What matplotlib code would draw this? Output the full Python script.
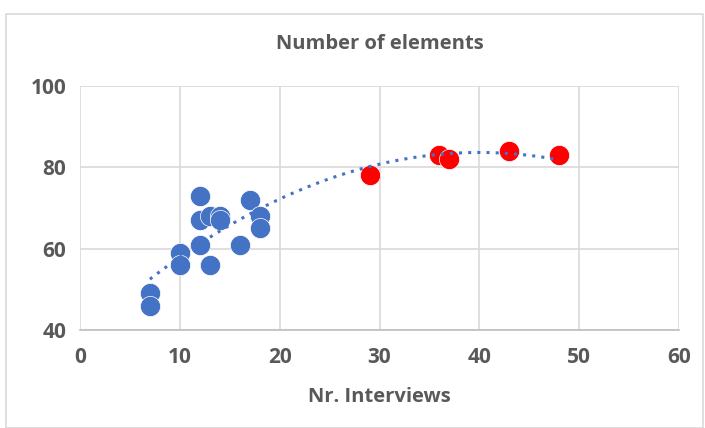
import numpy as np
import matplotlib.pyplot as plt
from matplotlib.patches import Rectangle

# data
blue_x = [7, 7, 10, 10, 12, 12, 12, 13, 13, 14, 14, 16, 17, 18, 18]
blue_y = [49, 46, 59, 56, 73, 67, 61, 68, 56, 68, 67, 61, 72, 68, 65]
red_x = [29, 36, 37, 43, 48]
red_y = [78, 83, 82, 84, 83]

x_ticks = [0, 10, 20, 30, 40, 50, 60]
y_ticks = [40, 60, 80, 100]

gray = '#595959'
W, H = 705, 428

fig = plt.figure(figsize=(W / 100, H / 100), dpi=100)
ax = fig.add_axes([80 / W, 1 - 330 / H, (679 - 80) / W, (330 - 86) / H])

# outer chart border
fig.patches.append(Rectangle((6 / W, 0), (703 - 6) / W, 1 - 14 / H,
                             transform=fig.transFigure, fill=False,
                             edgecolor='#D9D9D9', linewidth=1.2))

allx = np.array(blue_x + red_x, dtype=float)
ally = np.array(blue_y + red_y, dtype=float)
coef = np.polyfit(allx, ally, 2)
xs = np.linspace(allx.min(), allx.max(), 200)
ax.plot(xs, np.polyval(coef, xs), linestyle=(0, (1, 2)), color='#4472C4',
        linewidth=2.2, zorder=3)

ax.plot(blue_x, blue_y, 'o', color='#4472C4', markersize=14.5,
        markeredgecolor='white', markeredgewidth=0.5, zorder=2)
ax.plot(red_x, red_y, 'o', color='#FF0000', markersize=14.5,
        markeredgecolor='white', markeredgewidth=0.5, zorder=2)

ax.set_xlim(0, 60)
ax.set_ylim(40, 100)
ax.set_xticks(x_ticks)
ax.set_yticks(y_ticks)
ax.grid(True, color='#D9D9D9', linewidth=1.2)
ax.set_axisbelow(True)
for s in ['top', 'right', 'left']:
    ax.spines[s].set_visible(False)
ax.spines['bottom'].set_color('#BFBFBF')
ax.spines['bottom'].set_linewidth(1.2)
ax.tick_params(axis='x', length=0, labelsize=15, labelcolor=gray, pad=12)
ax.tick_params(axis='y', length=0, labelsize=15, labelcolor=gray, pad=10)
for lab in ax.get_xticklabels() + ax.get_yticklabels():
    lab.set_fontweight('bold')
    lab.set_family('Open Sans')

fig.text(0.5 * (80 + 679) / W, 1 - 44 / H, 'Number of elements', ha='center',
         va='center', fontsize=14.5, fontweight='bold', color=gray, family='Open Sans')
fig.text(0.5 * (80 + 679) / W, 1 - 397 / H, 'Nr. Interviews', ha='center',
         va='center', fontsize=14.5, fontweight='bold', color=gray, family='Open Sans')

fig.savefig('out.png', dpi=100)
